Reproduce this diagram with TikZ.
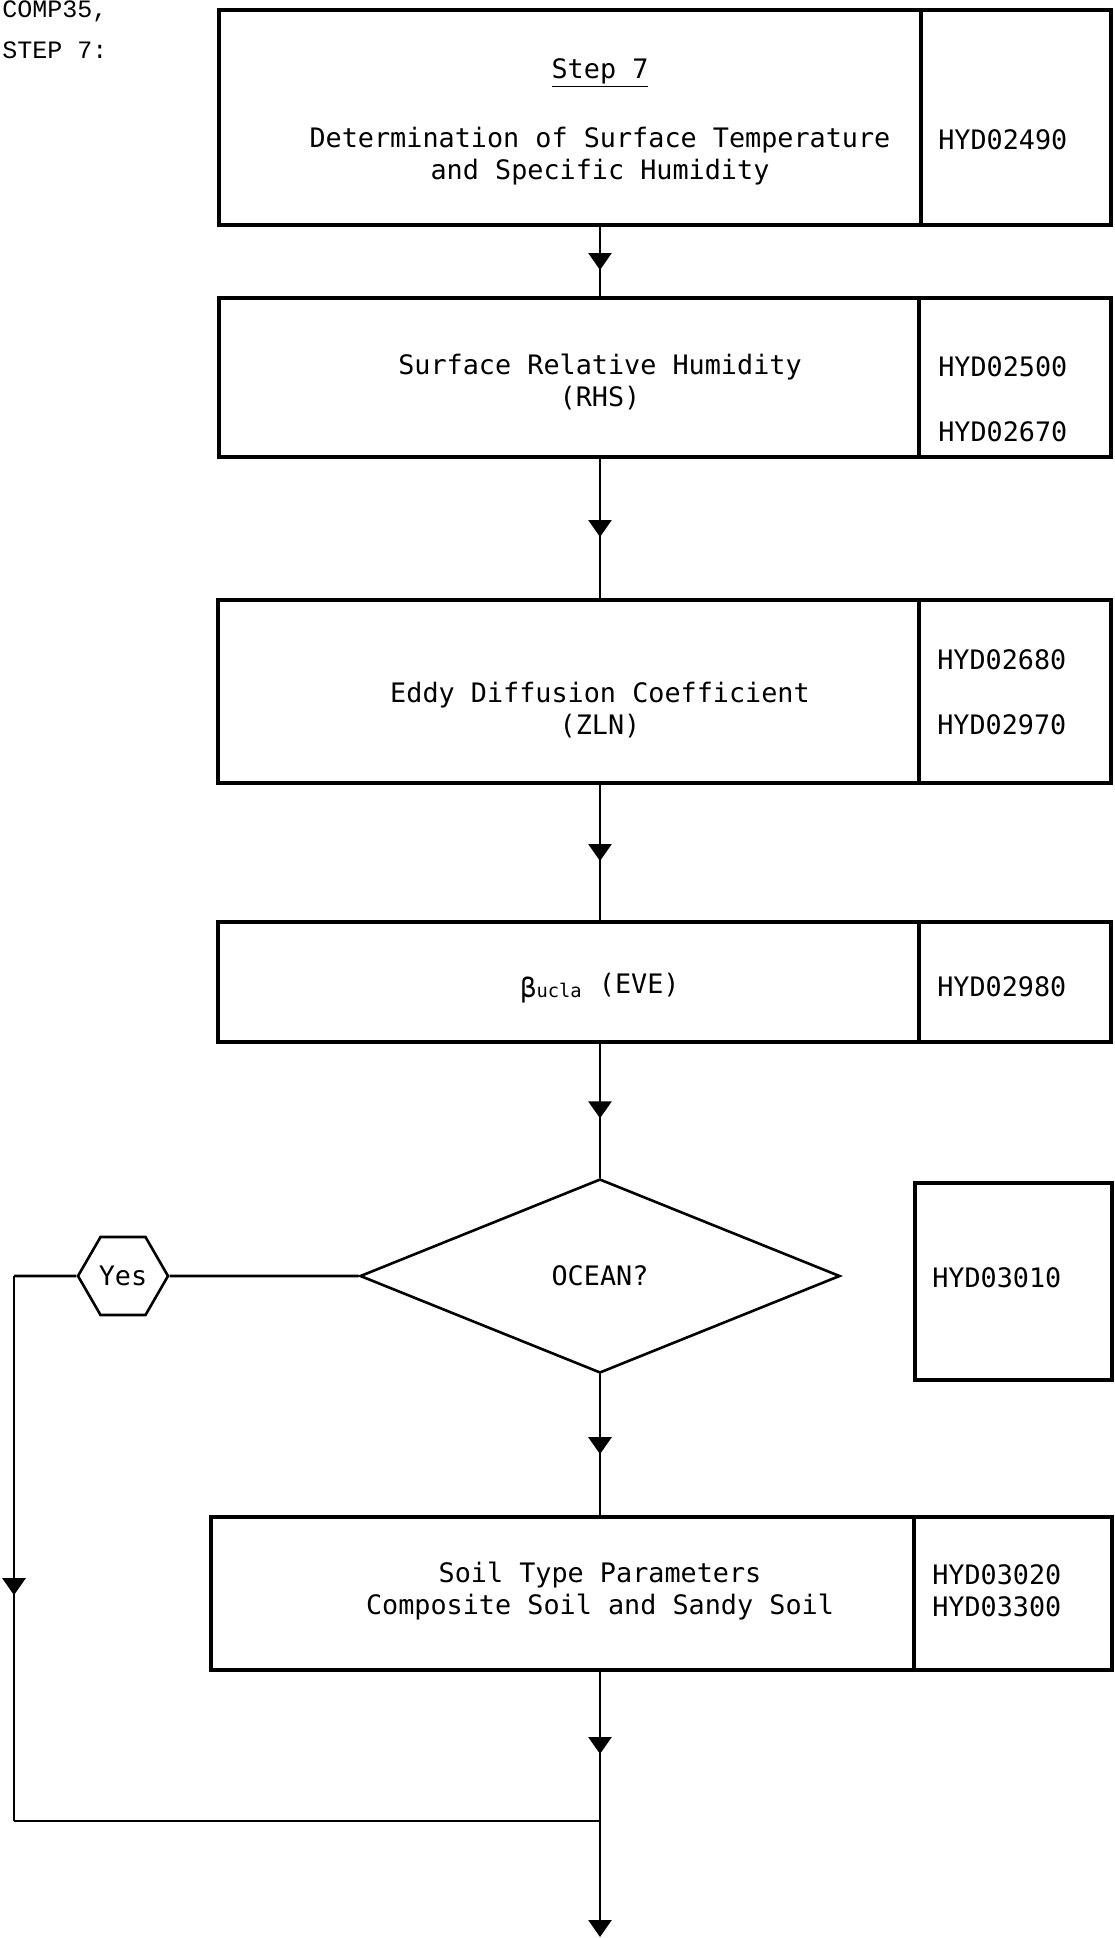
\documentclass[tikz,border=0pt]{standalone}
\usepackage{fontspec}
\usepackage{tikz}
\usetikzlibrary{arrows.meta}
\usetikzlibrary{positioning}
\usetikzlibrary{shapes.geometric}
\usetikzlibrary{decorations.markings}
\newfontfamily\boxfont{DejaVu Sans Mono}
\newfontfamily\headfont{Liberation Mono}

\begin{document}
\begin{tikzpicture}[x=0.5pt,y=-0.5pt,
  >={Triangle[width=11.5pt,length=8.5pt]},line width=1.3pt,
  procbox/.style={draw,rectangle,line width=1.7pt,inner sep=0pt,outer sep=0pt},
  txt/.style={font=\boxfont\fontsize{13.4}{16}\selectfont,align=center,inner sep=0pt},
  codetxt/.style={font=\boxfont\fontsize{13.4}{16}\selectfont,anchor=west,inner sep=0pt},
  hdr/.style={font=\headfont\fontsize{12.5}{15}\selectfont,anchor=base west,inner sep=0pt},
  midarrow/.style={postaction={decorate},decoration={markings,mark=at position #1 with {\arrow[xshift=4.25pt]{>}}}},
  midarrow/.default=0.5]
      \useasboundingbox (0,0) rectangle (1114,1938);

      \node[hdr] (hdrone) at (1,18) {COMP35,};
      \node[hdr] (hdrtwo) at (1,58) {STEP 7:};

      % step 7 header box
      \node[procbox,minimum width=351pt,minimum height=107.5pt] (stepbox) at (570,117.5) {};
      \node[procbox,minimum width=95pt,minimum height=107.5pt,right=0pt of stepbox] (stepref) {};
      \node[txt] (steptitle) at (600,73) {\underline{Step 7}};
      \node[txt] (steptext) at (600,156.5) {Determination of Surface Temperature\\and Specific Humidity};
      \node[codetxt] (stepcode) at (937,140) {HYD02490};

      \node[procbox,minimum width=350pt,minimum height=79.5pt] (rhsbox) at (569,377.5) {};
      \node[procbox,minimum width=96pt,minimum height=79.5pt,right=0pt of rhsbox] (rhsref) {};
      \node[txt] (rhstext) at (600,382.5) {Surface Relative Humidity\\(RHS)};
      \node[codetxt] (rhscodea) at (937,367) {HYD02500};
      \node[codetxt] (rhscodeb) at (937,432) {HYD02670};

      \node[procbox,minimum width=350.5pt,minimum height=91.5pt] (zlnbox) at (568.5,691.5) {};
      \node[procbox,minimum width=96pt,minimum height=91.5pt,right=0pt of zlnbox] (zlnref) {};
      \node[txt] (zlntext) at (600,710) {Eddy Diffusion Coefficient\\(ZLN)};
      \node[codetxt] (zlncodea) at (936,660) {HYD02680};
      \node[codetxt] (zlncodeb) at (936,725) {HYD02970};

      \node[procbox,minimum width=350.5pt,minimum height=60pt] (evebox) at (568.5,982) {};
      \node[procbox,minimum width=96pt,minimum height=60pt,right=0pt of evebox] (everef) {};
      \node[txt] (evetext) at (600,988) {\raisebox{-2pt}{β}\textsubscript{ucla} (EVE)};
      \node[codetxt] (evecode) at (936,987) {HYD02980};

      % ocean test
      \node[draw,diamond,txt,minimum width=240pt,minimum height=97pt] (ocean) at (600,1276) {OCEAN?};
      \node[procbox,minimum width=98.5pt,minimum height=98.5pt] (oceanref) at (1013.5,1281.5) {};
      \node[codetxt] (oceancode) at (931,1278) {HYD03010};
      \node[draw,regular polygon,regular polygon sides=6,txt,minimum size=45pt] (yes) at (123,1276) {Yes};

      \node[procbox,minimum width=351.5pt,minimum height=76.5pt] (soilbox) at (562.5,1593.5) {};
      \node[procbox,minimum width=99pt,minimum height=76.5pt,right=0pt of soilbox] (soilref) {};
      \node[txt] (soiltext) at (600,1591) {Soil Type Parameters\\Composite Soil and Sandy Soil};
      \node[codetxt] (soilcodea) at (931,1575) {HYD03020};
      \node[codetxt] (soilcodeb) at (931,1607) {HYD03300};

      \coordinate (retcorner) at (14,1276);
      \coordinate (retfoot) at (14,1821);
      \coordinate (join) at (600,1821);
      \coordinate (endpt) at (600,1937);

      \draw[midarrow] (steptitle |- stepbox.south) -- (steptitle |- rhsbox.north);
      \draw[midarrow] (steptitle |- rhsbox.south) -- (steptitle |- zlnbox.north);
      \draw[midarrow] (steptitle |- zlnbox.south) -- (steptitle |- evebox.north);
      \draw[midarrow] (steptitle |- evebox.south) -- (ocean.north);
      \draw[midarrow] (ocean.south) -- (steptitle |- soilbox.north);
      \draw[midarrow] (steptitle |- soilbox.south) -- (join);
      \draw (ocean.west) -- (yes.east);
      \draw (yes.west) -- (retcorner);
      \draw[midarrow=0.57] (retcorner) -- (retfoot);
      \draw (retfoot) -- (join);
      \draw[->] (join) -- (endpt);

  \end{tikzpicture}
\end{document}
